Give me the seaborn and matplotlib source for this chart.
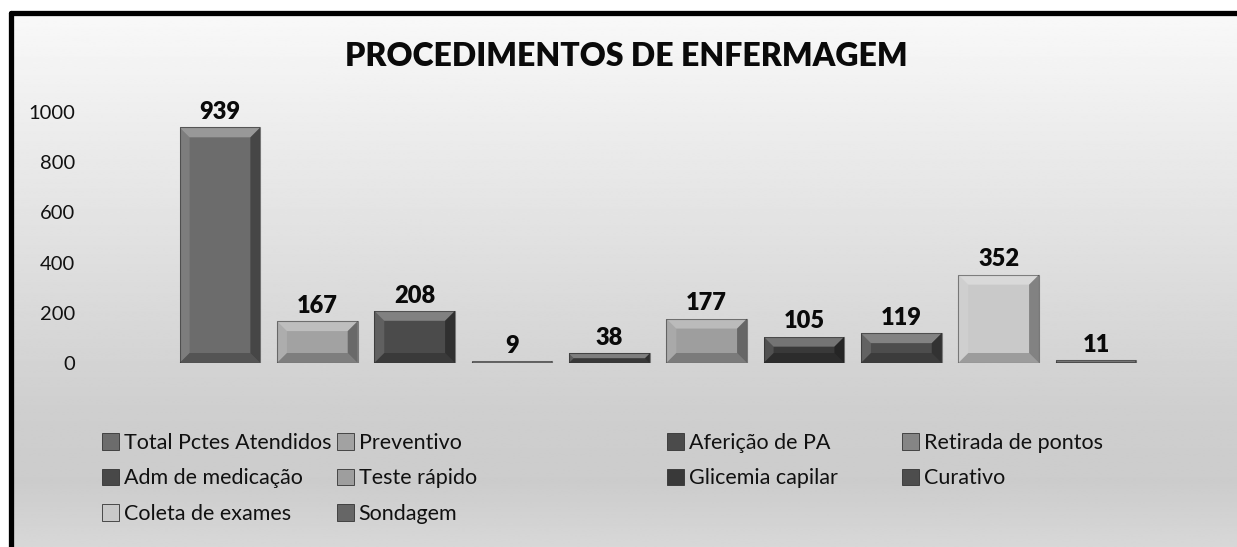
import numpy as np
import pandas as pd
import matplotlib
matplotlib.use("Agg")
import matplotlib.pyplot as plt
import seaborn as sns
from matplotlib.patches import Polygon, Patch, Rectangle
from matplotlib.lines import Line2D

# ---- data ----
categories = ["Total Pctes Atendidos", "Preventivo", "Aferição de PA", "Retirada de pontos",
              "Adm de medicação", "Teste rápido", "Glicemia capilar", "Curativo",
              "Coleta de exames", "Sondagem"]
values = [939, 167, 208, 9, 38, 177, 105, 119, 352, 11]
colors = ["#6c6c6c", "#a2a2a2", "#4b4b4b", "#858585", "#484848",
          "#9e9e9e", "#393939", "#4d4d4d", "#c9c9c9", "#666666"]
yticks = [0, 200, 400, 600, 800, 1000]
title = "PROCEDIMENTOS DE ENFERMAGEM"

sns.set_theme(style="white")
plt.rcParams["font.family"] = ["Lato", "DejaVu Sans"]

W, H = 1237, 547
fig = plt.figure(figsize=(W / 100, H / 100), dpi=100)
fig.patch.set_facecolor("white")

# background gradient inside the frame
bg = fig.add_axes([10 / W, 0, 1 - 10 / W, 1 - 12 / H], zorder=0)
stops_y = np.array([0.0, 0.75, 0.88, 1.0])
stops_v = np.array([0.975, 0.81, 0.80, 0.845])
yy = np.linspace(0, 1, 300)
grad = np.interp(yy, stops_y, stops_v)[:, None]
bg.imshow(np.repeat(grad, 2, axis=1), aspect="auto", cmap="gray", vmin=0, vmax=1,
          extent=[0, 1, 1, 0], interpolation="bilinear")
bg.set_axis_off()

# main axes
left, right = 171.3 / W, 1144.7 / W
bottom, top = (H - 363) / H, (H - 112) / H
ax = fig.add_axes([left, bottom, right - left, top - bottom], zorder=2)
ax.patch.set_alpha(0)

df = pd.DataFrame({"cat": categories, "val": values})
sns.barplot(data=df, x="cat", y="val", hue="cat", palette=colors, legend=False,
            width=0.83, ax=ax, saturation=1, edgecolor="none")
ax.set_ylim(0, 1000)
ax.set_xlim(-0.5, len(categories) - 0.5)
ax.set_yticks(yticks)
ax.set_yticklabels([str(t) for t in yticks], fontsize=14.5, color="#111111")
ax.tick_params(axis="y", length=0, pad=69)
ax.set_xticks([])
ax.set_xlabel("")
ax.set_ylabel("")
for s in ax.spines.values():
    s.set_visible(False)

# bevel shading derived from each bar's geometry
fig.canvas.draw()
inv = ax.transData.inverted()
for p in ax.patches:
    bb = p.get_window_extent()
    x0, y0, x1, y1 = bb.x0, bb.y0, bb.x1, bb.y1
    b = min(10, (y1 - y0) / 2, (x1 - x0) / 2)
    faces = [
        ([(x0, y1), (x1, y1), (x1 - b, y1 - b), (x0 + b, y1 - b)], "white", 0.30),
        ([(x0, y0), (x0, y1), (x0 + b, y1 - b), (x0 + b, y0 + b)], "white", 0.12),
        ([(x1, y0), (x1, y1), (x1 - b, y1 - b), (x1 - b, y0 + b)], "black", 0.35),
        ([(x0, y0), (x1, y0), (x1 - b, y0 + b), (x0 + b, y0 + b)], "black", 0.22),
    ]
    for pts, c, a in faces:
        dpts = inv.transform(pts)
        ax.add_patch(Polygon(dpts, closed=True, facecolor=c, alpha=a, edgecolor="none", zorder=3))
    ax.add_patch(Rectangle((p.get_x(), p.get_y()), p.get_width(), p.get_height(),
                           fill=False, edgecolor="#222222", linewidth=0.8, alpha=0.5, zorder=4))

for cont in ax.containers:
    ax.bar_label(cont, fmt="%d", padding=3, fontsize=17, fontweight="heavy", color="#0a0a0a")

fig.text(626 / W, 1 - 57 / H, title, ha="center", va="center", fontsize=23,
         fontweight="heavy", color="#0a0a0a", zorder=5)

# legend: four columns at fixed positions, rows filled left to right
ncols = 4
col_x = [103, 338, 668, 903]
for c in range(ncols):
    idx = list(range(c, len(categories), ncols))
    handles = [Patch(facecolor=colors[i], edgecolor="#333333", linewidth=0.6) for i in idx]
    labels = [categories[i] for i in idx]
    leg = fig.legend(handles, labels, loc="upper left",
                     bbox_to_anchor=((col_x[c] - 1) / W, 1 - 433 / H),
                     frameon=False, fontsize=15.5, handlelength=0.8, handleheight=0.8,
                     handletextpad=0.2, labelspacing=0.72, borderpad=0, borderaxespad=0)
    for t in leg.get_texts():
        t.set_color("#111111")
    leg.set_zorder(5)

# black frame on left and top
fig.add_artist(Line2D([10.5 / W, 10.5 / W], [0, 1 - 12.5 / H], color="black", linewidth=3.8,
                      transform=fig.transFigure, solid_capstyle="round", zorder=6))
fig.add_artist(Line2D([10.5 / W, 1.0], [1 - 12.5 / H, 1 - 12.5 / H], color="black", linewidth=3.8,
                      transform=fig.transFigure, solid_capstyle="round", zorder=6))

fig.savefig("out.png", dpi=100)
